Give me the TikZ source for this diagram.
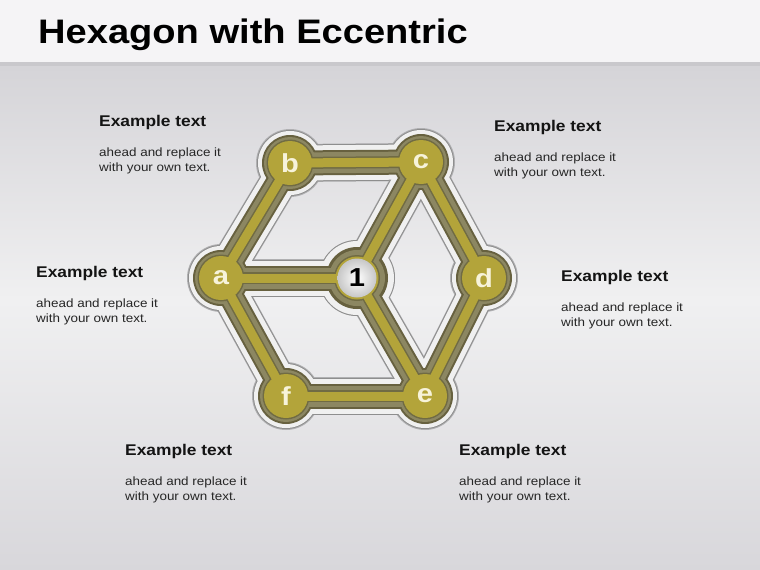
\documentclass[tikz,border=0pt]{standalone}
\usepackage{fontspec}
\setmainfont{Liberation Sans}[FakeStretch=1.12]
\definecolor{hdrbg}{HTML}{F5F4F6}
\definecolor{hdrline}{HTML}{C9C8CC}
\definecolor{bgtop}{HTML}{D5D4D8}
\definecolor{bgmid}{HTML}{F0F0F1}
\definecolor{bgbot}{HTML}{D8D7DB}
\definecolor{rimgray}{HTML}{8E8E8E}
\definecolor{whiteband}{HTML}{F0F0F0}
\definecolor{darkolive}{HTML}{67613F}
\definecolor{grayolive}{HTML}{8C8762}
\definecolor{lineolive}{HTML}{706B44}
\definecolor{coreyellow}{HTML}{B3A43A}
\definecolor{cream}{HTML}{F7F3DA}
\definecolor{shadowgray}{HTML}{B0B0B2}
\tikzset{
  headtxt/.style={anchor=base west, inner sep=0pt, text=black!92, font=\fontsize{15.5}{18}\selectfont\bfseries},
  bodytxt/.style={anchor=base west, inner sep=0pt, text=black!85, font=\fontsize{12}{15}\selectfont},
  lettertxt/.style={inner sep=0pt, text=cream, font=\fontsize{26}{26}\selectfont\bfseries},
}
\newcommand\hexlayer[4]{%
  \foreach \u/\v in {a/b,b/c,c/d,d/e,e/f,f/a,a/one,one/c,one/e}
    \draw[line width=#1, color=#4, line cap=round] (\u) -- (\v);
  \foreach \n in {a,b,c,d,e,f}
    \fill[#4] (\n) circle (#2);
  \fill[#4] (one) circle (#3);
}
\begin{document}
\begin{tikzpicture}[x=1pt,y=-1pt]
\useasboundingbox (0,0) rectangle (760,570);
% background
\fill[hdrbg] (0,0) rectangle (760,62);
\fill[hdrline] (0,62) rectangle (760,66);
\shade[top color=bgtop, bottom color=bgmid] (0,66) rectangle (760,300);
\shade[top color=bgmid, bottom color=bgbot] (0,300) rectangle (760,570);
% title
\node[anchor=base west, inner sep=0pt, font=\fontsize{34}{40}\selectfont\bfseries] (title) at (38,43) {Hexagon with Eccentric};
% hub coordinates
\coordinate (a) at (221,278);
\coordinate (b) at (290,163);
\coordinate (c) at (421,162);
\coordinate (one) at (357,278);
\coordinate (d) at (484,278);
\coordinate (e) at (425,396);
\coordinate (f) at (286,396);
% shadow
\begin{scope}[shift={(1,3)}]
\hexlayer{38pt}{34pt}{38pt}{shadowgray}
\end{scope}
% layers
\hexlayer{37pt}{33pt}{38pt}{rimgray}
\hexlayer{35pt}{32pt}{37pt}{whiteband}
\hexlayer{25pt}{28pt}{31pt}{darkolive}
\hexlayer{21pt}{26pt}{28pt}{grayolive}
\hexlayer{12pt}{23.5pt}{23pt}{lineolive}
\hexlayer{9pt}{22pt}{21.5pt}{coreyellow}
% central sphere
\shade[inner color=white, outer color=black!22] (one) circle (19.5pt);
% letters
\node[lettertxt] (la) at (a) {a};
\node[lettertxt] (lb) at (b) {b};
\node[lettertxt] (lc) at (c) {c};
\node[lettertxt] (ld) at (d) {d};
\node[lettertxt] (le) at (e) {e};
\node[lettertxt] (lf) at (f) {f};
\node[lettertxt, text=black] (lone) at (one) {1};
% text blocks
\node[headtxt] (h1) at (99,126) {Example text};
\node[bodytxt] (t1a) at (99,156) {ahead and replace it};
\node[bodytxt] (t1b) at (99,171) {with your own text.};
\node[headtxt] (h2) at (494,131) {Example text};
\node[bodytxt] (t2a) at (494,161) {ahead and replace it};
\node[bodytxt] (t2b) at (494,176) {with your own text.};
\node[headtxt] (h3) at (36,277) {Example text};
\node[bodytxt] (t3a) at (36,307) {ahead and replace it};
\node[bodytxt] (t3b) at (36,322) {with your own text.};
\node[headtxt] (h4) at (561,281) {Example text};
\node[bodytxt] (t4a) at (561,311) {ahead and replace it};
\node[bodytxt] (t4b) at (561,326) {with your own text.};
\node[headtxt] (h5) at (125,455) {Example text};
\node[bodytxt] (t5a) at (125,485) {ahead and replace it};
\node[bodytxt] (t5b) at (125,500) {with your own text.};
\node[headtxt] (h6) at (459,455) {Example text};
\node[bodytxt] (t6a) at (459,485) {ahead and replace it};
\node[bodytxt] (t6b) at (459,500) {with your own text.};
\end{tikzpicture}
\end{document}
